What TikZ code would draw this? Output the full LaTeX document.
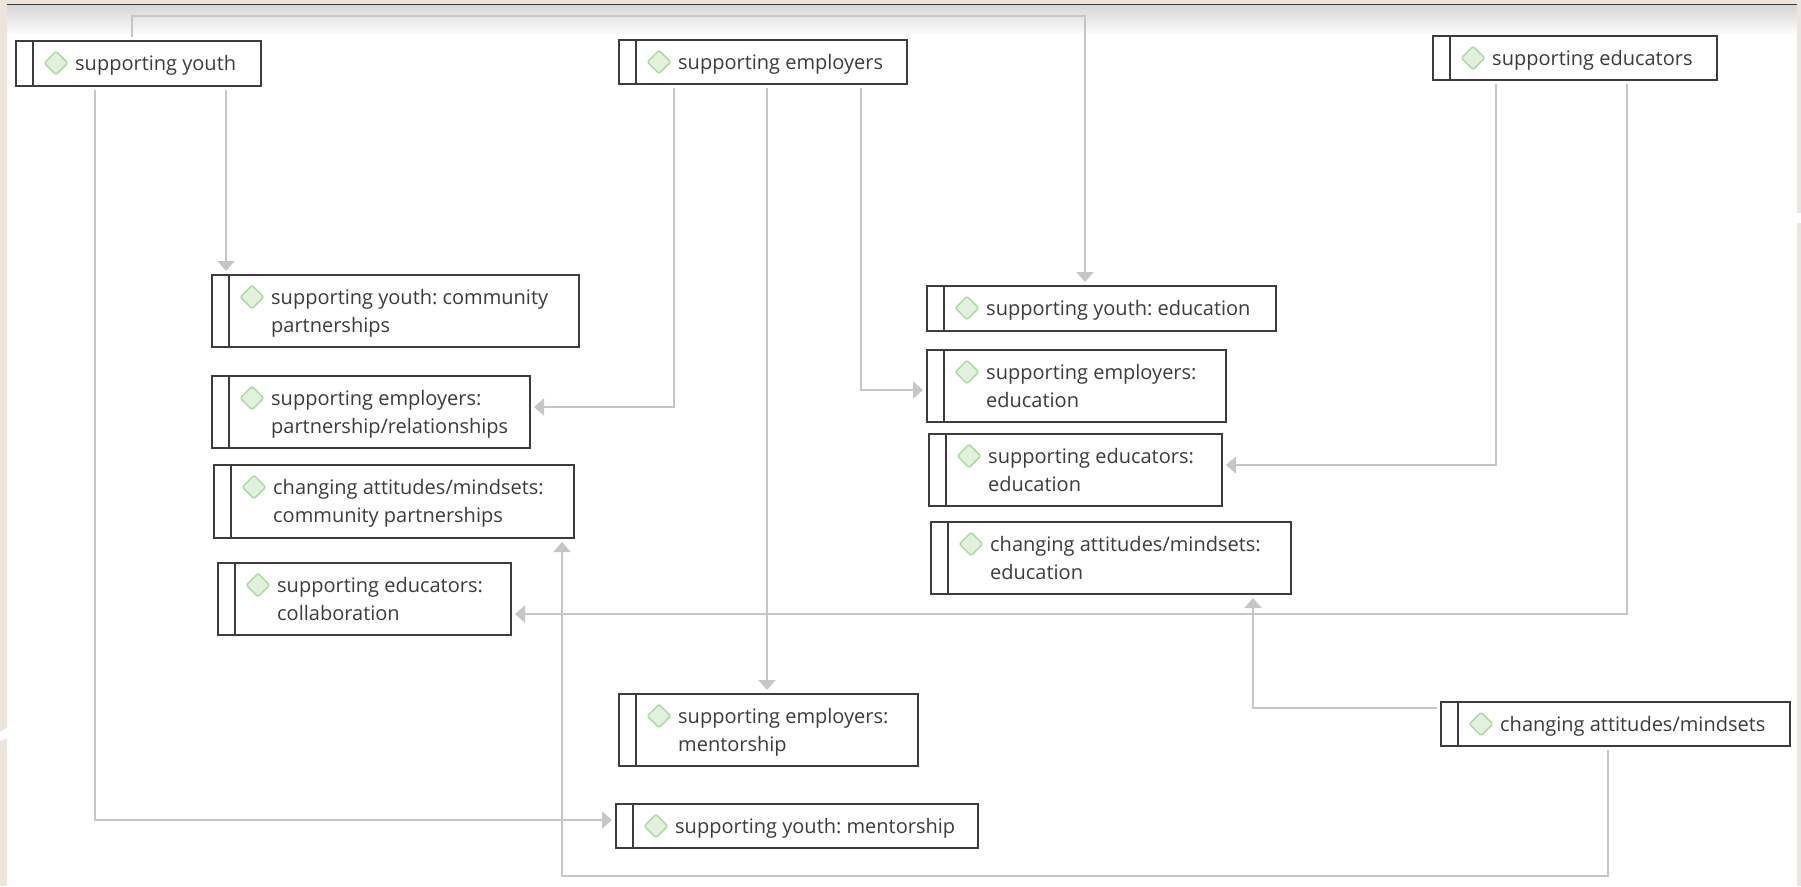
\documentclass[tikz,border=0pt]{standalone}
\usepackage{fontspec}
\setmainfont{Open Sans}
\usetikzlibrary{arrows.meta,shapes.geometric}
\definecolor{beige}{HTML}{EDE4DC}
\definecolor{edge}{HTML}{C6C6C6}
\definecolor{ink}{HTML}{3C3C3C}
\definecolor{gemfill}{HTML}{E2F1DC}
\definecolor{gemline}{HTML}{A9DD9F}
\tikzset{
  boxst/.style={draw=ink,line width=1.6pt,fill=white,inner sep=0pt,outer sep=0pt,anchor=north west},
  barst/.style={draw=ink,line width=1.6pt},
  gem/.style={shape=diamond,draw=gemline,fill=gemfill,line width=1.5pt,rounded corners=2pt,minimum width=24pt,minimum height=24pt,inner sep=0pt},
  txt/.style={anchor=north west,inner sep=0pt,align=left,text=ink,font=\fontsize{20}{28}\selectfont\frenchspacing},
  conn/.style={draw=edge,line width=2pt,shorten <=4pt,shorten >=4pt,-{Triangle[length=10pt,width=17pt]}},
}
\newcommand{\dbox}[6]{%
  \node[boxst,minimum width=#4pt,minimum height=#5pt] (#1) at (#2,#3) {};
  \draw[barst] ([xshift=17pt]#1.north west) -- ([xshift=17pt]#1.south west);
  \node[gem] (#1g) at ([xshift=40pt,yshift=-22pt]#1.north west) {};
  \node[txt] (#1t) at ([xshift=59pt,yshift=-14pt]#1.north west) {\rule{0pt}{15pt}#6};
}
\begin{document}
\begin{tikzpicture}[x=1pt,y=-1pt]
\useasboundingbox (0,0) rectangle (1801,886);
\fill[beige] (0,0) rectangle (1801,886);
\fill[white] (7,5) rectangle (1797,886);
\shade[top color=black!16,bottom color=white] (7,5) rectangle (1797,36);
\draw[ink,line width=1.2pt] (7,4.5) -- (1797,4.5);
\fill[white] (1797,213) rectangle (1801,223);
\fill[white] (0,732) -- (7,728) -- (7,738) -- (0,741) -- cycle;

\dbox{sy}{16}{41}{245}{45}{supporting youth}
\dbox{se}{619}{40}{288}{44}{supporting employers}
\dbox{sd}{1433}{36}{284}{44}{supporting educators}
\dbox{cp}{212}{275}{367}{72}{supporting youth: community\\partnerships}
\dbox{pr}{212}{376}{318}{72}{supporting employers:\\partnership/relationships}
\dbox{cc}{214}{465}{360}{73}{changing attitudes/mindsets:\\community partnerships}
\dbox{co}{218}{563}{293}{72}{supporting educators:\\collaboration}
\dbox{ye}{927}{286}{349}{45}{supporting youth: education}
\dbox{ee}{927}{350}{299}{72}{supporting employers:\\education}
\dbox{de}{929}{434}{293}{72}{supporting educators:\\education}
\dbox{ce}{931}{522}{360}{72}{changing attitudes/mindsets:\\education}
\dbox{em}{619}{694}{299}{72}{supporting employers:\\mentorship}
\dbox{ym}{616}{804}{362}{44}{supporting youth: mentorship}
\dbox{ca}{1441}{702}{349}{44}{changing attitudes/mindsets}

\coordinate (k1) at (132,16);
\coordinate (k2) at (1085,16);
\coordinate (k3) at (226,100);
\coordinate (k4) at (95,820);
\coordinate (k5) at (674,407);
\coordinate (k6) at (767,100);
\coordinate (k7) at (861,390);
\coordinate (k8) at (1496,465);
\coordinate (k9) at (1627,614);
\coordinate (k10) at (1253,708);
\coordinate (k11) at (1608,876);
\coordinate (k12) at (562,876);

\draw[conn] (k1 |- sy.north) -- (k1) -- (k2) -- (k2 |- ye.north);
\draw[conn] (k3 |- sy.south) -- (k3 |- cp.north);
\draw[conn] (k4 |- sy.south) -- (k4) -- (k4 -| ym.west);
\draw[conn] (k5 |- se.south) -- (k5) -- (k5 -| pr.east);
\draw[conn] (k6 |- se.south) -- (k6 |- em.north);
\draw[conn] (k7 |- se.south) -- (k7) -- (k7 -| ee.west);
\draw[conn] (k8 |- sd.south) -- (k8) -- (k8 -| de.east);
\draw[conn] (k9 |- sd.south) -- (k9) -- (k9 -| co.east);
\draw[conn] (k10 -| ca.west) -- (k10) -- (k10 |- ce.south);
\draw[conn] (k11 |- ca.south) -- (k11) -- (k12) -- (k12 |- cc.south);
\end{tikzpicture}
\end{document}
